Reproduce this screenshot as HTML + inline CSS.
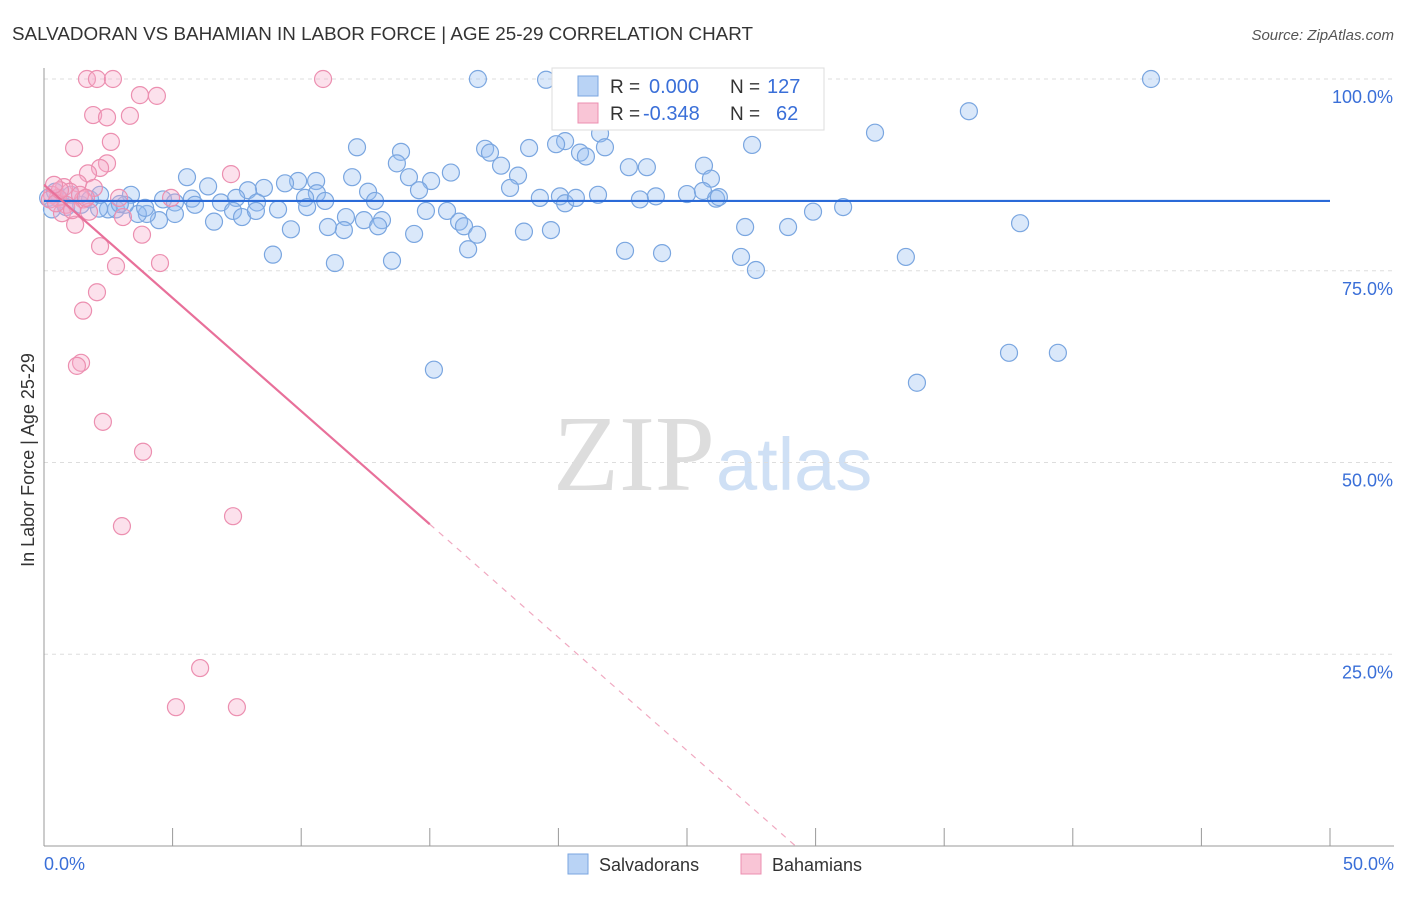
<!DOCTYPE html>
<html><head><meta charset="utf-8"><style>
body{margin:0;background:#fff;font-family:"Liberation Sans",sans-serif}
</style></head><body>
<svg id="c" width="1406" height="892" xmlns="http://www.w3.org/2000/svg">
<text x="12" y="40" font-size="18" fill="#333" textLength="741" lengthAdjust="spacingAndGlyphs">SALVADORAN VS BAHAMIAN IN LABOR FORCE | AGE 25-29 CORRELATION CHART</text>
<text x="1394" y="40" font-size="15" fill="#555" font-style="italic" text-anchor="end">Source: ZipAtlas.com</text>
<text x="715" y="490" font-size="108" fill="#ddd" text-anchor="end" font-family="Liberation Serif,serif">ZIP</text>
<text x="716" y="490" font-size="74" fill="#cfe0f5">atlas</text>
<g id="grid"></g><g id="pts"></g><g id="trend"></g>
<text x="34" y="460" font-size="18" fill="#333" text-anchor="middle" transform="rotate(-90 34 460)">In Labor Force | Age 25-29</text>
<g>
<rect x="552" y="68" width="272" height="62" fill="#fff" stroke="#ddd"/>
<rect x="578" y="76" width="20" height="20" fill="#b9d3f5" stroke="#7aa6e0"/>
<rect x="578" y="103" width="20" height="20" fill="#f9c5d6" stroke="#ec8fb0"/>
<text x="610" y="93" font-size="19" fill="#333">R =</text>
<text x="649" y="93" font-size="20" fill="#3a6fd8">0.000</text>
<text x="730" y="93" font-size="19" fill="#333">N =</text>
<text x="767" y="93" font-size="20" fill="#3a6fd8">127</text>
<text x="610" y="120" font-size="19" fill="#333">R =</text>
<text x="643" y="120" font-size="20" fill="#3a6fd8">-0.348</text>
<text x="730" y="120" font-size="19" fill="#333">N =</text>
<text x="776" y="120" font-size="20" fill="#3a6fd8">62</text>
</g>
<g>
<rect x="568" y="854" width="20" height="20" fill="#b9d3f5" stroke="#7aa6e0"/>
<text x="599" y="871" font-size="18" fill="#333">Salvadorans</text>
<rect x="741" y="854" width="20" height="20" fill="#f9c5d6" stroke="#ec8fb0"/>
<text x="772" y="871" font-size="18" fill="#333">Bahamians</text>
</g>
</svg>
<script>
const blueX=[16.87,19.52,43.04,35.96,32.31,21.62,17.15,17.34,20.26,19.91,18.86,20.84,21.07,21.81,27.53,12.17,13.88,13.72,22.74,23.44,25.66,25.93,17.77,15.82,18.43,14.19,15.05,14.58,18.12,11.98,10.58,9.88,9.37,5.56,6.38,8.55,7.93,12.60,12.87,10.61,10.15,10.93,19.28,20.06,20.26,20.68,21.54,23.17,23.79,25.00,25.62,26.13,26.24,3.38,4.63,5.09,5.75,6.88,7.47,8.28,9.10,7.35,7.70,6.61,4.47,5.09,4.00,3.65,2.80,2.49,2.14,3.15,1.44,0.62,0.16,0.31,0.43,1.05,1.79,2.18,10.23,8.24,11.74,12.44,13.14,12.99,14.39,14.85,15.67,16.14,16.33,16.84,16.49,18.66,19.71,11.66,11.04,9.60,8.90,11.31,13.53,22.59,24.03,27.10,27.68,29.90,31.07,28.93,27.26,33.51,37.95,37.52,39.42,33.94,15.16,2.95,3.93,5.87,0.86];
const blueY=[100,99.9,100,95.8,93.0,92.9,90.9,90.4,91.9,91.5,91.0,90.4,89.9,91.1,91.4,91.1,90.5,89.0,88.5,88.5,88.7,87.0,88.7,87.8,87.4,87.2,86.7,85.5,85.8,87.2,86.7,86.7,86.4,87.2,86.0,85.8,85.5,85.3,84.1,85.1,84.5,84.1,84.5,84.7,83.8,84.5,84.9,84.3,84.7,85.0,85.4,84.4,84.6,84.9,84.3,83.9,84.4,83.9,84.5,83.9,83.0,82.8,82.0,81.4,81.6,82.4,82.4,82.4,83.0,83.0,83.1,83.6,83.6,84.3,84.5,83.0,85.3,84.9,84.3,84.9,83.3,82.8,82.0,81.6,81.6,80.8,79.8,82.8,82.8,81.4,80.8,79.7,77.8,80.1,80.3,80.3,80.7,80.4,77.1,76.0,76.3,77.6,77.3,76.8,75.1,82.7,83.3,80.7,80.7,76.8,81.2,64.3,64.3,60.4,62.1,83.7,83.2,83.6,83.3];
const pinkX=[1.67,2.06,2.68,10.85,3.73,4.39,1.91,2.45,3.34,2.60,1.17,2.45,2.18,1.71,7.27,1.32,0.78,1.94,1.01,4.94,2.92,1.52,0.54,0.31,0.86,1.75,3.07,0.70,1.21,3.81,2.18,2.80,4.51,2.06,1.52,1.44,1.28,2.29,3.85,7.35,3.03,6.07,5.13,7.50,0.23,0.47,0.62,1.09,1.40,1.63,0.39];
const pinkY=[100,100,100,100,97.9,97.8,95.3,95.0,95.2,91.8,91.0,89.0,88.4,87.7,87.6,86.4,85.9,85.8,85.3,84.5,84.5,84.3,84.5,84.9,83.6,82.7,82.0,82.5,81.0,79.7,78.2,75.6,76.0,72.2,69.8,63.0,62.6,55.3,51.4,43.0,41.7,23.2,18.1,18.1,84.3,83.8,85.5,82.9,84.9,84.5,86.2];
const yTicks=[100,75,50,25];
const yTickLabels=["100.0%","75.0%","50.0%","25.0%"];
const blueTrend=[84.1,84.1];
const pinkTrend=[86.2,-2.95];
const NS="http://www.w3.org/2000/svg";
const X0=44,X1=1330,Y0=846,Y100=79;
const sx=v=>X0+(X1-X0)*v/50, sy=v=>Y0-(Y0-Y100)*v/100;
function mk(tag,attrs,parent){const e=document.createElementNS(NS,tag);for(const k in attrs)e.setAttribute(k,attrs[k]);parent.appendChild(e);return e;}
const grid=document.getElementById('grid');
yTicks.forEach((t,i)=>{
 const l=mk('line',{x1:X0,x2:1394,y1:sy(t),y2:sy(t),stroke:'#ddd','stroke-dasharray':'4,4'},grid);
 
 
 const tx=mk('text',{x:1393,y:sy(t)+24,'font-size':18,fill:'#3a6fd8','text-anchor':'end'},grid);
 tx.textContent=yTickLabels[i];
 
 
});
const ax=mk('line',{x1:X0,x2:X0,y1:68,y2:Y0,stroke:'#999'},grid);


const bx=mk('line',{x1:X0,x2:1394,y1:Y0,y2:Y0,stroke:'#999'},grid);


for(let i=1;i<=10;i++){const t=mk('line',{x1:sx(i*5),x2:sx(i*5),y1:828,y2:Y0,stroke:'#999'},grid);
 
 }
const xl=mk('text',{x:44,y:870,'font-size':18,fill:'#3a6fd8'},grid);xl.textContent='0.0%';


const xr=mk('text',{x:1394,y:870,'font-size':18,fill:'#3a6fd8','text-anchor':'end'},grid);xr.textContent='50.0%';


const pts=document.getElementById('pts');
blueX.forEach((x,i)=>{const c=mk('circle',{cx:sx(x),cy:sy(blueY[i]),r:8.5,fill:'rgba(150,190,240,0.35)',stroke:'#7aa6e0','stroke-width':1.2},pts);
 
 });
pinkX.forEach((x,i)=>{const c=mk('circle',{cx:sx(x),cy:sy(pinkY[i]),r:8.5,fill:'rgba(245,170,200,0.35)',stroke:'#ec8fb0','stroke-width':1.2},pts);
 
 });
const tr=document.getElementById('trend');
const bl=mk('line',{x1:sx(0),x2:sx(50),y1:sy(blueTrend[0]),y2:sy(blueTrend[1]),stroke:'#2a6ad8','stroke-width':2.2},tr);


const pf=x=>pinkTrend[0]+pinkTrend[1]*x;
const xEnd=-pinkTrend[0]/pinkTrend[1];
const ps=mk('line',{x1:sx(0),x2:sx(15),y1:sy(pf(0)),y2:sy(pf(15)),stroke:'#e8709a','stroke-width':2.2},tr);


const pd=mk('line',{x1:sx(15),x2:sx(xEnd),y1:sy(pf(15)),y2:sy(0),stroke:'#f0a8c0','stroke-width':1.2,'stroke-dasharray':'6,6'},tr);


</script>
</body></html>
